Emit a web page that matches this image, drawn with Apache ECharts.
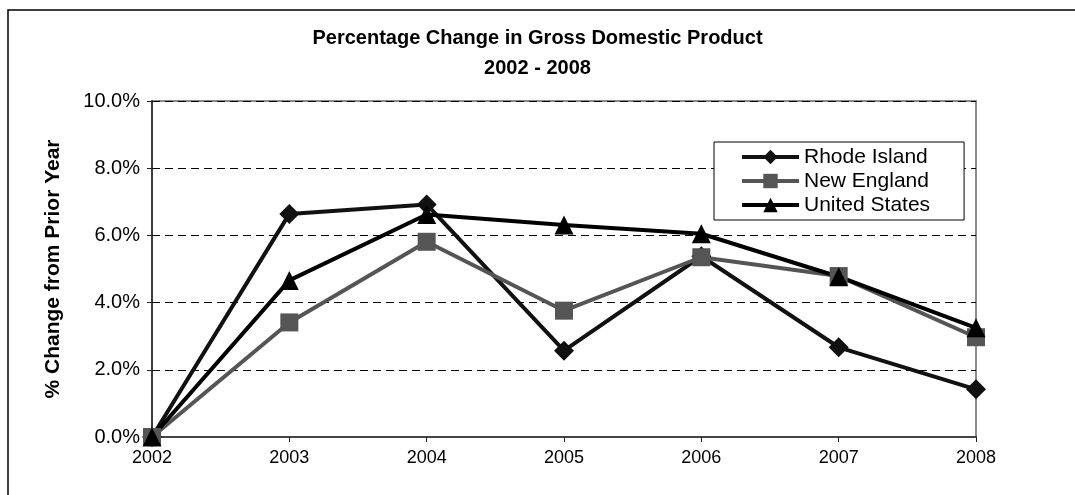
<!DOCTYPE html>
<html>
<head>
<meta charset="utf-8">
<script src="https://cdn.jsdelivr.net/npm/echarts@6/dist/echarts.min.js"></script>
<style>
  html, body { margin: 0; padding: 0; background: #fff; }
  #chart { width: 1075px; height: 495px; }
</style>
</head>
<body>
<div id="chart"></div>
<script>
// Annual GDP growth, as a fraction of the prior year
const years = ['2002', '2003', '2004', '2005', '2006', '2007', '2008'];
const rhodeIsland = [0.0, 0.0664, 0.0692, 0.0257, 0.0538, 0.0267, 0.0142];
const newEngland = [0.0, 0.0341, 0.0581, 0.0376, 0.0535, 0.0479, 0.0297];
const unitedStates = [0.0, 0.0466, 0.0662, 0.0631, 0.0605, 0.0477, 0.0325];
const yTicks = [0, 0.02, 0.04, 0.06, 0.08, 0.10];

const FONT = '"Liberation Sans", Arial, sans-serif';

const chart = echarts.init(document.getElementById('chart'), null, { renderer: 'canvas' });

function lineSeries(name, data, color, symbol, size) {
  return {
    name: name,
    type: 'line',
    data: data,
    symbol: symbol,
    symbolSize: size,
    lineStyle: { color: color, width: 4 },
    itemStyle: { color: color },
    emphasis: { disabled: true },
    animation: false
  };
}

chart.setOption({
  animation: false,
  backgroundColor: '#fff',
  textStyle: { fontFamily: FONT },
  graphic: [{
    type: 'rect',
    shape: { x: 8, y: 10, width: 1200, height: 600 },
    style: { fill: 'none', stroke: '#000', lineWidth: 1.5 },
    z: 100
  }],
  title: {
    text: 'Percentage Change in Gross Domestic Product\n2002 - 2008',
    left: 'center',
    top: 18,
    textStyle: {
      fontFamily: FONT, fontSize: 20, fontWeight: 'bold', color: '#000', lineHeight: 30
    }
  },
  legend: {
    orient: 'vertical',
    left: 714,
    top: 142,
    itemWidth: 57,
    itemHeight: 18,
    itemGap: 2,
    padding: [4, 34, 4, 26],
    borderColor: '#000',
    borderWidth: 1,
    backgroundColor: '#fff',
    lineStyle: { width: 4 },
    textStyle: { fontFamily: FONT, fontSize: 21, color: '#000', lineHeight: 22 },
    data: ['Rhode Island', 'New England', 'United States']
  },
  grid: {
    left: 152, right: 99, top: 101, bottom: 58,
    show: true,
    borderColor: '#8a8a8a',
    borderWidth: 2,
    backgroundColor: '#fff'
  },
  xAxis: {
    type: 'category',
    data: years,
    boundaryGap: false,
    axisLine: { lineStyle: { color: '#444', width: 2 } },
    axisTick: { show: true, alignWithLabel: true, length: 5, lineStyle: { color: '#222', width: 1 } },
    axisLabel: { fontFamily: FONT, fontSize: 18, color: '#000', margin: 12 },
    splitLine: { show: false }
  },
  yAxis: {
    type: 'value',
    min: yTicks[0],
    max: yTicks[yTicks.length - 1],
    interval: 0.02,
    name: '% Change from Prior Year',
    nameLocation: 'middle',
    nameGap: 88,
    nameTextStyle: { fontFamily: FONT, fontSize: 21, fontWeight: 'bold', color: '#000' },
    axisLine: { show: true, lineStyle: { color: '#222', width: 1.5 } },
    axisTick: { show: true, length: 5, lineStyle: { color: '#222' } },
    axisLabel: {
      fontFamily: FONT, fontSize: 20, color: '#000', margin: 12,
      formatter: v => (v * 100).toFixed(1) + '%'
    },
    splitLine: { show: true, lineStyle: { color: '#000', width: 1, type: [8, 5] } }
  },
  series: [
    lineSeries('Rhode Island', rhodeIsland, '#111', 'diamond', 20),
    lineSeries('New England', newEngland, '#555', 'rect', 18),
    lineSeries('United States', unitedStates, '#000', 'triangle', 19)
  ]
});
</script>
</body>
</html>
